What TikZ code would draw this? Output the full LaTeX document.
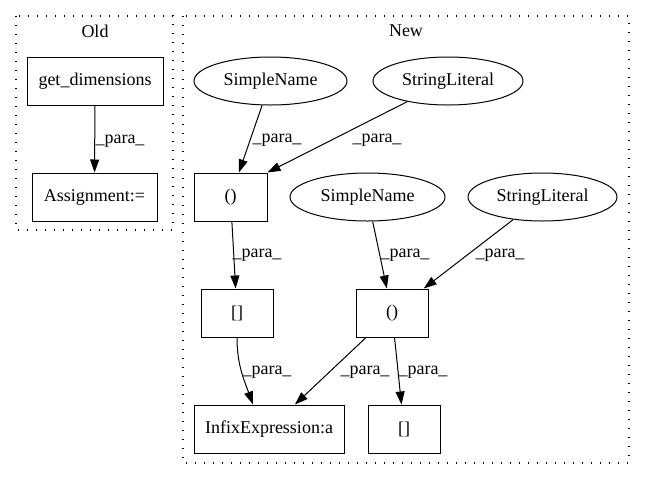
\documentclass[tikz,border=0pt]{standalone}
\usepackage{fontspec}
\setmainfont{Liberation Serif}
\usetikzlibrary{shapes.geometric,arrows.meta}
\begin{document}
\begin{tikzpicture}[x=1pt,y=-1pt,
  font=\fontsize{18}{20}\selectfont,
  box/.style={draw,line width=1pt,rectangle,minimum height=48pt,inner sep=0pt},
  ell/.style={draw,line width=1pt,ellipse,minimum height=48pt,inner sep=0pt},
  cluster/.style={draw,line width=1.2pt,dash pattern=on 1.3pt off 7.7pt},
  edge/.style={draw,line width=1pt,-{Triangle[length=13pt,width=9pt]}},
  lbl/.style={inner sep=0pt}]
\useasboundingbox (0,0) rectangle (645,480);
% clusters
\draw[cluster] (16,16) rectangle (173,230);
\node[lbl] (oldlbl) at (95,31) {Old};
\draw[cluster] (183,16) rectangle (629,463);
\node[lbl] (newlbl) at (406,31) {New};
% Old nodes
\node[box,minimum width=136pt] (getdim) at (95,81) {get\_dimensions};
\node[box,minimum width=125pt] (assign) at (94.5,197) {Assignment:=};
\draw[edge] (getdim) -- (assign);
\node[lbl] (l0) at (120,141) {\_para\_};
% New nodes
\node[ell,minimum width=153pt] (sn1) at (270.5,81) {SimpleName};
\node[ell,minimum width=150pt] (sl1) at (448,81) {StringLiteral};
\node[box,minimum width=73pt] (call1) at (230.5,197) {()};
\node[ell,minimum width=155pt] (sn2) at (367.5,197) {SimpleName};
\node[ell,minimum width=149pt] (sl2) at (542.5,197) {StringLiteral};
\node[box,minimum width=72pt] (br1) at (237,313) {[]};
\node[box,minimum width=72pt] (call2) at (392,313) {()};
\node[box,minimum width=150pt] (infix) at (269,429) {InfixExpression:a};
\node[box,minimum width=72pt] (br2) at (404,429) {[]};
% edges
\draw[edge] (sn1) -- (call1);
\node[lbl] (l1) at (277,140) {\_para\_};
\draw[edge] (sl1) -- (call1.north east);
\node[lbl] (l2) at (377,140) {\_para\_};
\draw[edge] (call1) -- (br1);
\node[lbl] (l3) at (257,255) {\_para\_};
\draw[edge] (sn2) -- (call2);
\node[lbl] (l4) at (405,255) {\_para\_};
\draw[edge] (sl2) -- (call2);
\node[lbl] (l5) at (500,255) {\_para\_};
\draw[edge] (br1.south) to[out=-90,in=110] ([xshift=-16pt]infix.north);
\node[lbl] (l6) at (267,372) {\_para\_};
\draw[edge] (call2) -- (infix);
\node[lbl] (l7) at (365,372) {\_para\_};
\draw[edge] (call2) -- (br2);
\node[lbl] (l8) at (423,372) {\_para\_};
\end{tikzpicture}
\end{document}
